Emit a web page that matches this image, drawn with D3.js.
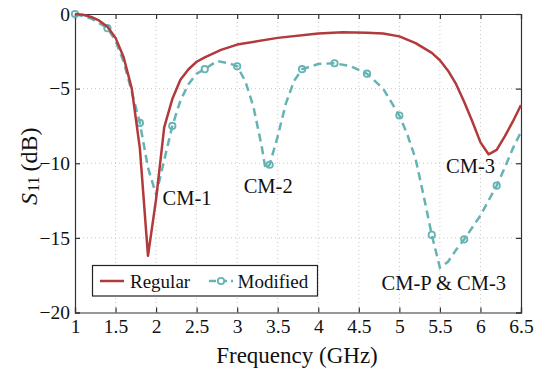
<!DOCTYPE html>
<html>
<head>
<meta charset="utf-8">
<script src="https://cdn.jsdelivr.net/npm/d3@7"></script>
<style>
  body { margin: 0; background: #fff; }
  text { font-family: "Liberation Serif", "Times New Roman", serif; fill: #111; }
</style>
</head>
<body>
<div class="chart-node"></div>
<script>
const width = 546, height = 370

// Regular antenna, S11 (dB)
const regularFreq = [1.0, 1.1, 1.2, 1.3, 1.4, 1.5, 1.6, 1.7, 1.8, 1.9, 2.0, 2.1, 2.2, 2.3, 2.4, 2.5, 2.6, 2.8, 3.0, 3.5, 4.0, 4.3, 4.6, 4.8, 5.0, 5.2, 5.4, 5.5, 5.6, 5.7, 5.8, 5.9, 6.0, 6.1, 6.2, 6.3, 6.4, 6.5]
const regularS11  = [0, -0.05, -0.2, -0.45, -0.85, -1.6, -2.9, -5.0, -9.0, -16.2, -12.4, -7.6, -5.7, -4.4, -3.7, -3.2, -2.9, -2.4, -2.05, -1.6, -1.3, -1.22, -1.25, -1.3, -1.5, -1.95, -2.6, -3.1, -3.8, -4.7, -5.9, -7.2, -8.6, -9.4, -9.1, -8.2, -7.2, -6.1]

// Modified antenna, S11 (dB)
const modifiedFreq = [1.0, 1.2, 1.4, 1.5, 1.6, 1.7, 1.8, 1.9, 2.0, 2.1, 2.2, 2.3, 2.4, 2.5, 2.6, 2.75, 2.9, 3.0, 3.1, 3.2, 3.3, 3.35, 3.4, 3.5, 3.6, 3.7, 3.8, 4.0, 4.2, 4.4, 4.6, 4.8, 5.0, 5.1, 5.2, 5.3, 5.4, 5.5, 5.6, 5.7, 5.8, 6.0, 6.2, 6.3, 6.4, 6.5]
const modifiedS11  = [0, -0.3, -0.95, -1.8, -3.2, -5.2, -7.3, -10.3, -12.1, -9.8, -7.5, -5.8, -4.7, -4.0, -3.7, -3.15, -3.3, -3.5, -4.5, -6.2, -8.8, -10.4, -10.1, -8.2, -6.0, -4.5, -3.7, -3.35, -3.3, -3.5, -4.0, -5.0, -6.8, -8.1, -9.7, -12.2, -14.8, -17.0, -16.6, -15.8, -15.1, -13.5, -11.5, -10.3, -9.0, -7.9]
const markerFreq = [1.0, 1.4, 1.8, 2.2, 2.6, 3.0, 3.4, 3.8, 4.2, 4.6, 5.0, 5.4, 5.8, 6.2]

const xTicks = [1, 1.5, 2, 2.5, 3, 3.5, 4, 4.5, 5, 5.5, 6, 6.5]
const yTicks = [0, -5, -10, -15, -20]
const seriesNames = ['Regular', 'Modified']
const notes = [
    { text: 'CM-1', f: 2.08, db: -12.8 },
    { text: 'CM-2', f: 3.08, db: -12.0 },
    { text: 'CM-3', f: 5.575, db: -10.65 },
    { text: 'CM-P & CM-3', f: 4.78, db: -18.5 }
]

const red = '#b23a3b', teal = '#66b3b4'
const margin = { left: 75, right: 25, top: 14, bottom: 57.5 }

const svg = d3.select('.chart-node').append('svg')
    .attr('width', width)
    .attr('height', height)

const x = d3.scaleLinear().domain([1, 6.5]).range([margin.left, width - margin.right])
const y = d3.scaleLinear().domain([-20, 0]).range([height - margin.bottom, margin.top])

// grid
const grid = svg.append('g').attr('class', 'grid')
grid.selectAll('.gx').data(xTicks.slice(1, -1)).enter().append('line')
    .attr('x1', d => x(d)).attr('x2', d => x(d))
    .attr('y1', y(0)).attr('y2', y(-20))
grid.selectAll('.gy').data(yTicks.slice(1, -1)).enter().append('line')
    .attr('x1', x(1)).attr('x2', x(6.5))
    .attr('y1', d => y(d)).attr('y2', d => y(d))
grid.selectAll('line')
    .attr('stroke', '#c8c8c8')
    .attr('stroke-width', 1)
    .attr('stroke-dasharray', '1,3')

// axes (ticks inward on all sides)
const tickLen = 5
const xAxis = svg.append('g').attr('transform', 'translate(0,' + y(-20) + ')')
    .call(d3.axisBottom(x).tickValues(xTicks).tickSize(-tickLen).tickPadding(7).tickFormat(d3.format('')))
const xTop = svg.append('g').attr('transform', 'translate(0,' + y(0) + ')')
    .call(d3.axisTop(x).tickValues(xTicks).tickSize(-tickLen).tickFormat(''))
const yAxis = svg.append('g').attr('transform', 'translate(' + x(1) + ',0)')
    .call(d3.axisLeft(y).tickValues(yTicks).tickSize(-tickLen).tickPadding(5).tickFormat(d3.format('')))
const yRight = svg.append('g').attr('transform', 'translate(' + x(6.5) + ',0)')
    .call(d3.axisRight(y).tickValues(yTicks).tickSize(-tickLen).tickFormat(''))

svg.selectAll('.domain').attr('stroke', '#333').attr('stroke-width', 1.2)
svg.selectAll('.tick line').attr('stroke', '#333').attr('stroke-width', 1.2)
svg.selectAll('.tick text')
    .style('font-family', '"Liberation Serif", serif')
    .style('font-size', '19.5px')
    .attr('fill', '#111')

// curves
const regLine = d3.line().x(d => x(d[0])).y(d => y(d[1]))
const plot = svg.append('g').attr('class', 'plot')

plot.append('path')
    .datum(modifiedFreq.map((f, i) => [f, modifiedS11[i]]))
    .attr('d', regLine)
    .attr('fill', 'none')
    .attr('stroke', teal)
    .attr('stroke-width', 2.5)
    .attr('stroke-dasharray', '8,5')

const markerPts = markerFreq.map(f => {
    const i = modifiedFreq.indexOf(f)
    return [f, modifiedS11[i]]
})
plot.selectAll('circle').data(markerPts).enter().append('circle')
    .attr('cx', d => x(d[0]))
    .attr('cy', d => y(d[1]))
    .attr('r', 3.2)
    .attr('fill', 'none')
    .attr('stroke', teal)
    .attr('stroke-width', 1.8)

plot.append('path')
    .datum(regularFreq.map((f, i) => [f, regularS11[i]]))
    .attr('d', regLine)
    .attr('fill', 'none')
    .attr('stroke', red)
    .attr('stroke-width', 2.5)
    .attr('stroke-linejoin', 'round')

// annotations
svg.append('g').selectAll('text').data(notes).enter().append('text')
    .attr('x', d => x(d.f))
    .attr('y', d => y(d.db))
    .style('font-size', '20.5px')
    .text(d => d.text)

// legend
const legend = svg.append('g').attr('class', 'legend')
legend.append('rect')
    .attr('x', 92.5).attr('y', 265.5)
    .attr('width', 225).attr('height', 30.5)
    .attr('fill', '#fff')
    .attr('stroke', '#222')
    .attr('stroke-width', 1.2)
legend.append('line')
    .attr('x1', 100).attr('x2', 124).attr('y1', 281).attr('y2', 281)
    .attr('stroke', red).attr('stroke-width', 2.5)
legend.append('text').attr('x', 130).attr('y', 287.5).style('font-size', '19px').text(seriesNames[0])
legend.append('line')
    .attr('x1', 209).attr('x2', 233).attr('y1', 281).attr('y2', 281)
    .attr('stroke', teal).attr('stroke-width', 2.5).attr('stroke-dasharray', '7,4')
legend.append('circle')
    .attr('cx', 221).attr('cy', 281).attr('r', 3.2)
    .attr('fill', '#fff').attr('stroke', teal).attr('stroke-width', 1.8)
legend.append('text').attr('x', 237.5).attr('y', 287.5).style('font-size', '19px').text(seriesNames[1])

// axis labels
svg.append('text')
    .attr('x', (x(1) + x(6.5)) / 2 - 1)
    .attr('y', 363)
    .style('text-anchor', 'middle')
    .style('font-size', '23px')
    .text('Frequency (GHz)')

const yLabel = svg.append('text')
    .attr('transform', 'translate(37,205) rotate(-90)')
    .style('text-anchor', 'start')
    .style('font-size', '24px')
yLabel.append('tspan').style('font-style', 'italic').text('S')
yLabel.append('tspan').attr('dy', 2).attr('dx', 1).style('font-size', '16px').text('11')
yLabel.append('tspan').attr('dy', -2).attr('dx', 5).text('(dB)')
</script>
</body>
</html>
